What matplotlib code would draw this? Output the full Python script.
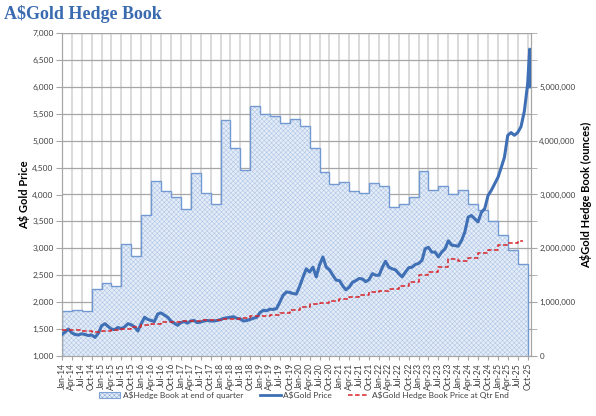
import numpy as np
import pandas as pd
import matplotlib
matplotlib.use("Agg")
import matplotlib.pyplot as plt
import matplotlib.dates as mdates
import matplotlib.patches as mpatches
from matplotlib.lines import Line2D
from matplotlib.ticker import FuncFormatter, MultipleLocator

# quarter starts Jan-14 .. Oct-25 (axis ticks / hedge book steps)
quarters = pd.date_range("2014-01-01", "2025-10-01", freq="QS")

# hedge book (ounces) for each quarter step
hedge_oz = [828000, 846000, 828000, 1250000, 1355000, 1300000, 2087000, 1850000, 2627000, 3259000,
            3073000, 2962000, 2739000, 3395000, 3029000, 2818000, 4387000, 3873000, 3451000, 4642000,
            4487000, 4461000, 4320000, 4394000, 4270000, 3873000, 3420000, 3204000, 3228000, 3066000,
            3029000, 3209000, 3150000, 2760000, 2832000, 2955000, 3439000, 3085000, 3159000, 3018000,
            3079000, 2832000, 2720000, 2510000, 2254000, 1974000, 1713000]

# hedge book price at quarter end (A$/oz)
hedge_px = [1487, 1475, 1465, 1445, 1470, 1490, 1505, 1540, 1567, 1600,
            1630, 1635, 1642, 1650, 1660, 1670, 1680, 1692, 1710, 1735,
            1740, 1760, 1797, 1847, 1908, 1958, 1990, 2020, 2051, 2090,
            2126, 2187, 2206, 2250, 2299, 2373, 2498, 2560, 2653, 2808,
            2764, 2827, 2913, 2975, 3056, 3099, 3136]
hedge_px_end = "2025-08-15"

# A$ gold price, monthly readings
gold_px = [
    1400, 1450, 1500, 1430, 1400, 1390, 1413, 1400, 1380, 1390, 1345, 1420,
    1560, 1600, 1550, 1500, 1490, 1530, 1505, 1540, 1600, 1580, 1540, 1465,
    1600, 1720, 1680, 1660, 1640, 1780, 1800, 1760, 1720, 1650, 1610, 1570,
    1620, 1640, 1610, 1650, 1660, 1620, 1630, 1650, 1660, 1650, 1650, 1660,
    1675, 1700, 1710, 1720, 1730, 1700, 1690, 1650, 1660, 1680, 1700, 1720,
    1810, 1850, 1840, 1870, 1865, 1880, 2000, 2130, 2190, 2180, 2160, 2150,
    2300, 2470, 2620, 2560, 2650, 2470, 2690, 2840, 2650, 2600, 2500, 2410,
    2400, 2300, 2230, 2280, 2370, 2400, 2440, 2430, 2380, 2420, 2530, 2500,
    2500, 2650, 2760, 2650, 2620, 2600, 2530, 2470, 2560, 2640, 2650, 2700,
    2720, 2780, 2990, 3020, 2930, 2930, 2840, 2930, 2990, 3140, 3060, 3050,
    3040, 3150, 3300, 3580, 3610, 3550, 3490, 3670, 3740, 3980, 4080, 4200,
    4320, 4510, 4690, 5100, 5150, 5100, 5150, 5260, 5550, 6050,
]
gold_dates = list(pd.date_range("2014-01-01", "2025-10-01", freq="MS"))
gold_px_oct = [6700, 6000]
gold_dates_oct = ["2025-10-20", "2025-10-24"]

plt.rcParams['font.family'] = ['Lato', 'DejaVu Sans']
plt.rcParams['hatch.linewidth'] = 0.35

fig = plt.figure(figsize=(5.96, 4.16), dpi=100)
ax = fig.add_axes([62 / 596, 1 - 356 / 416, (531 - 62) / 596, (356 - 33) / 416])
ax2 = ax.twinx()
ax.set_zorder(2)
ax2.set_zorder(1)
ax.patch.set_visible(False)
ax2.set_axisbelow(True)

# hedge book bars on the right axis
edges = mdates.date2num(list(quarters) + [quarters[-1] + pd.DateOffset(months=3)])[:len(hedge_oz) + 1]
ax2.stairs(hedge_oz, edges, fill=True, baseline=0, facecolor="#E4ECF7",
           edgecolor="#A9C2E6", hatch="xxxxxxx", linewidth=0, zorder=2)
ax2.stairs(hedge_oz, edges, fill=False, baseline=0, color="#7399D2", linewidth=1.0, zorder=3)

# lines on the left axis
gx = gold_dates + list(pd.to_datetime(gold_dates_oct))
gy = gold_px + gold_px_oct
ax.plot(gx, gy, color="#3F6FB5", linewidth=2.2, zorder=3)
hx = list(quarters[:len(hedge_px)]) + [pd.Timestamp(hedge_px_end)]
hy = hedge_px + [hedge_px[-1]]
ax.step(hx, hy, where="post", color="#D7262B", linewidth=1.1, dashes=(3, 1.6), zorder=4)

ax.set_xlim(quarters[0], pd.Timestamp("2025-11-01"))
ax.set_ylim(1000, 7000)

ax.set_xticks(quarters)
ax.set_xticklabels([d.strftime("%b-%y") for d in quarters], rotation=90, fontsize=6.2, color="#404040")
ax.yaxis.set_major_locator(MultipleLocator(500))
ax.yaxis.set_major_formatter(FuncFormatter(lambda v, p: f"{v:,.0f}"))
ax.tick_params(axis="y", labelsize=6, labelcolor="#404040", length=4, color="#A6A6A6", pad=2)
ax.tick_params(axis="x", length=3, color="#A6A6A6", pad=2)

ax2.set_yticks([0, 1000000, 2000000, 3000000, 4000000, 5000000])
ax2.yaxis.set_minor_locator(MultipleLocator(500000))
ax2.yaxis.set_major_formatter(FuncFormatter(lambda v, p: f"{v:,.0f}"))
ax2.tick_params(axis="y", which="both", labelsize=5.8, labelcolor="#404040", length=4, color="#A6A6A6", pad=2)

# gridlines behind the bars
ax2.xaxis.set_visible(True)
ax2.tick_params(axis="x", which="both", bottom=False, top=False, labelbottom=False, labeltop=False)
ax2.grid(axis="x", color="#DADADA", linewidth=1.4)
ax2.grid(axis="y", which="both", color="#A6A6A6", linewidth=0.9)
ax2.set_ylim(0, 6000000)

for a in (ax, ax2):
    a.spines["top"].set_visible(False)
    for s in ("left", "right", "bottom"):
        a.spines[s].set_color("#A6A6A6")
ax2.axhline(6000000, color="#A6A6A6", linewidth=0.9, zorder=0)

ax.set_ylabel("A$ Gold Price", fontsize=8, fontweight="bold", labelpad=1.5)
ax2.set_ylabel("A$Gold Hedge Book (ounces)", fontsize=8, fontweight="bold", labelpad=3)

fig.text(0.006, 0.966, "A$Gold Hedge Book", family="Liberation Serif", fontweight="bold",
         fontsize=13, color="#3A6AB0", va="center", ha="left")

handles = [
    mpatches.Patch(facecolor="#E4ECF7", edgecolor="#7FA2D6", hatch="xxxxxxx", linewidth=0.8),
    Line2D([], [], color="#3F6FB5", linewidth=2.0),
    Line2D([], [], color="#D7262B", linewidth=1.1, dashes=(3, 1.6)),
]
labels = ["A$Hedge Book at end of quarter", "A$Gold Price", "A$Gold Hedge Book Price at Qtr End"]
fig.legend(handles, labels, loc="center", bbox_to_anchor=(0.51, 0.05), ncol=3, frameon=False,
           fontsize=6, handlelength=2.5, columnspacing=2.0, handletextpad=0.3,
           labelcolor="#404040")

fig.savefig("out.png", dpi=100)
